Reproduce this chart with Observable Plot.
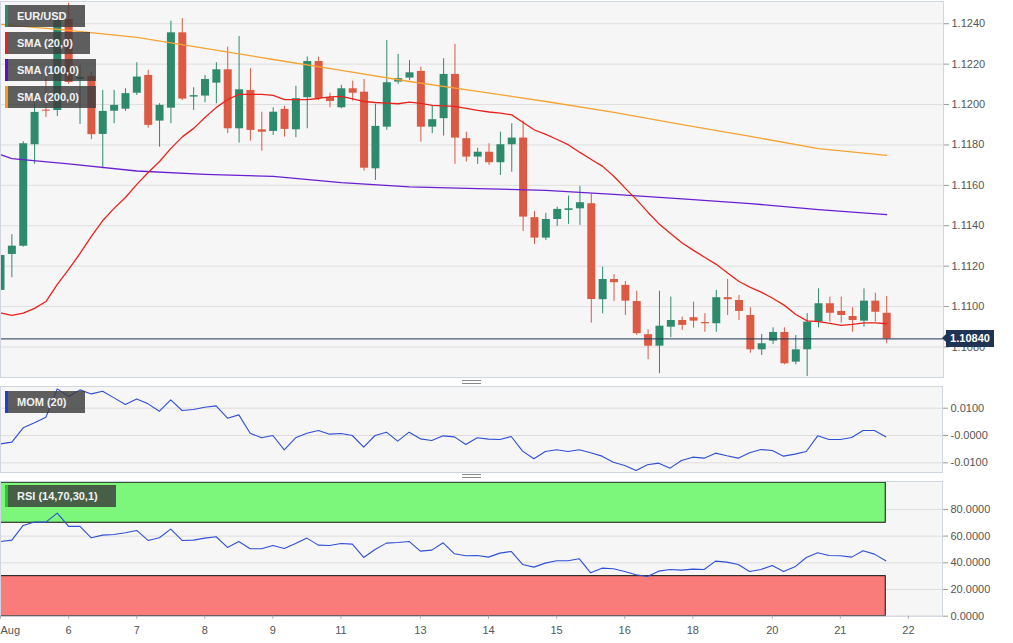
<!DOCTYPE html>
<html><head><meta charset="utf-8">
<script src="https://cdn.jsdelivr.net/npm/d3@7"></script>
<script src="https://cdn.jsdelivr.net/npm/@observablehq/plot@0.6"></script>
<style>
body{margin:0;background:#fff;font-family:"Liberation Sans",Arial,sans-serif;}
#wrap{position:relative;width:1013px;height:643px;overflow:hidden;background:#fff;}
.panel{position:absolute;left:0;}
.tag{position:absolute;left:5px;height:22px;line-height:22px;background:rgba(60,60,60,0.82);color:#f2f2f2;font-weight:bold;font-size:11px;padding-left:9px;box-sizing:border-box;border-left:3px solid;white-space:nowrap;}
.handle{position:absolute;left:462px;width:19px;height:2px;border-top:1px solid #8a8a8a;border-bottom:1px solid #8a8a8a;}
.price{position:absolute;left:946px;width:48px;height:17px;line-height:17px;background:#1f3454;color:#fff;font-weight:bold;font-size:11px;text-align:center;}
.price:before{content:"";position:absolute;left:-4px;top:4px;border-top:4.5px solid transparent;border-bottom:4.5px solid transparent;border-right:4px solid #1f3454;}
</style>
</head><body>
<div id="wrap"></div>
<script>
// ---- data (EUR/USD 4h candles) ----
const opens  = [1.11080,1.11258,1.11299,1.11801,1.11972,1.11971,1.12421,1.12124,1.12139,1.11852,
1.11967,1.11977,1.12056,1.12144,1.11918,1.11982,1.12355,1.12037,1.12042,1.12106,
1.12172,1.11880,1.12070,1.11875,1.11867,1.11976,1.11875,1.12034,1.12213,1.12034,
1.11984,1.12078,1.12061,1.11682,1.11888,1.12111,1.12131,1.12164,1.11888,1.11930,
1.12149,1.11831,1.11740,1.11764,1.11712,1.11801,1.11834,1.11440,1.11339,1.11431,
1.11476,1.11484,1.11509,1.11034,1.11134,1.11105,1.11025,1.10861,1.10804,1.10898,
1.10931,1.10945,1.10921,1.10915,1.11044,1.11030,1.10956,1.10786,1.10829,1.10872,
1.10725,1.10786,1.10923,1.11014,1.10976,1.10951,1.10928,1.11027,1.10967];
const highs  = [1.11278,1.11356,1.11816,1.12004,1.12129,1.12431,1.12502,1.12194,1.12160,1.12070,
1.12070,1.12078,1.12207,1.12169,1.12004,1.12413,1.12425,1.12083,1.12144,1.12207,
1.12284,1.12337,1.12177,1.11962,1.11984,1.11991,1.12090,1.12235,1.12235,1.12056,
1.12095,1.12116,1.12124,1.12001,1.12317,1.12248,1.12218,1.12185,1.11996,1.12227,
1.12298,1.11863,1.11784,1.11806,1.11863,1.11905,1.11918,1.11471,1.11462,1.11492,
1.11547,1.11595,1.11555,1.11195,1.11158,1.11124,1.11076,1.10885,1.11076,1.11047,
1.10948,1.11022,1.10965,1.11080,1.11134,1.11055,1.10994,1.10862,1.10895,1.10895,
1.10857,1.10965,1.11088,1.11047,1.11047,1.10994,1.11088,1.11066,1.11050];
const lows   = [1.11065,1.11143,1.11294,1.11704,1.11936,1.11941,1.12100,1.11902,1.11826,1.11682,
1.11905,1.11966,1.12045,1.11883,1.11789,1.11905,1.12020,1.11971,1.12009,1.12004,
1.11856,1.11809,1.11819,1.11769,1.11847,1.11839,1.11836,1.11880,1.12020,1.11984,
1.11979,1.12017,1.11670,1.11624,1.11872,1.12100,1.12119,1.11814,1.11856,1.11844,
1.11704,1.11715,1.11704,1.11699,1.11649,1.11665,1.11372,1.11308,1.11327,1.11397,
1.11407,1.11402,1.10918,1.10964,1.11025,1.10956,1.10857,1.10737,1.10668,1.10846,
1.10882,1.10893,1.10873,1.10873,1.10956,1.10931,1.10769,1.10758,1.10812,1.10712,
1.10712,1.10654,1.10895,1.10923,1.10918,1.10873,1.10898,1.10923,1.10816];
const closes = [1.11253,1.11299,1.11806,1.11961,1.11967,1.12416,1.12109,1.12134,1.11851,1.11966,
1.11996,1.12054,1.12136,1.11897,1.11996,1.12355,1.12027,1.12044,1.12124,1.12172,
1.11880,1.12073,1.11872,1.11863,1.11962,1.11877,1.12029,1.12213,1.12029,1.12015,
1.12078,1.12056,1.11685,1.11892,1.12108,1.12128,1.12157,1.11888,1.11925,1.12149,
1.11834,1.11740,1.11764,1.11712,1.11801,1.11834,1.11443,1.11339,1.11431,1.11481,
1.11484,1.11514,1.11035,1.11134,1.11118,1.11027,1.10866,1.10804,1.10903,1.10931,
1.10907,1.10928,1.10915,1.11044,1.11034,1.10976,1.10786,1.10816,1.10872,1.10717,
1.10786,1.10923,1.11014,1.10967,1.10956,1.10931,1.11027,1.10972,1.10840];

const sma20 = [1.10969,1.10956,1.10968,1.10991,1.11025,1.11110,1.11184,1.11263,1.11347,1.11426,
1.11486,1.11540,1.11605,1.11664,1.11718,1.11783,1.11840,1.11882,1.11936,1.11986,
1.12025,1.12050,1.12050,1.12050,1.12045,1.12024,1.12024,1.12024,1.12030,1.12038,
1.12040,1.12028,1.12015,1.12010,1.12007,1.12004,1.12012,1.12006,1.11996,1.11993,
1.11991,1.11981,1.11971,1.11963,1.11958,1.11949,1.11911,1.11874,1.11852,1.11827,
1.11800,1.11763,1.11728,1.11694,1.11644,1.11585,1.11528,1.11466,1.11407,1.11361,
1.11315,1.11278,1.11243,1.11209,1.11166,1.11124,1.11095,1.11070,1.11040,1.11006,
1.10961,1.10929,1.10926,1.10917,1.10907,1.10912,1.10919,1.10919,1.10915];
const sma100Idx = [0,1,6,12,18,24,30,36,42,48,54,60,66,72,78];
const sma100 = [1.11752,1.11732,1.11706,1.11671,1.11654,1.11644,1.11614,1.11592,1.11584,1.11575,1.11555,1.11533,1.11510,1.11480,1.11455];
const sma200Idx = [0,6,12,18,24,30,36,42,48,54,60,66,72,78];
const sma200 = [1.12397,1.12367,1.12332,1.12278,1.12223,1.12169,1.12114,1.12065,1.12015,1.11961,1.11901,1.11842,1.11782,1.11748];

const mom20 = [-0.00305,-0.00244,0.00280,0.00463,0.00671,0.01707,0.01427,0.01671,0.01524,0.01622,
0.01378,0.01134,0.01341,0.01159,0.00890,0.01305,0.00915,0.00951,0.01037,0.01085,
0.00634,0.00756,0.00085,-0.00085,0,-0.00524,-0.00085,0.00085,0.00183,0.00049,
0.00073,0,-0.00427,0,0.00122,-0.00207,0.00122,-0.00122,-0.00183,-0.00012,
-0.00049,-0.00329,-0.00085,-0.00134,-0.00146,-0.00037,-0.00573,-0.00854,-0.00585,-0.00524,
-0.00585,-0.00524,-0.00634,-0.00756,-0.00976,-0.01098,-0.01280,-0.01073,-0.01012,-0.01195,
-0.00915,-0.00793,-0.00829,-0.00646,-0.00744,-0.00829,-0.00634,-0.00512,-0.00549,-0.00756,
-0.00683,-0.00585,-0.00012,-0.00146,-0.00146,-0.00073,0.00183,0.00183,-0.00049];
const rsi14 = [56,57,68,70.5,70.5,77.25,67.25,67.25,58.75,60.75,
61.25,62.5,64.25,56.75,58.75,65.25,56.75,57,58.5,59.5,
51.5,56,50.5,50.5,53,50.75,54.5,58.5,53.25,53,
54.5,54,44,50,54.75,55.25,56,48.75,49.5,55,
46.75,45.25,45.5,44.25,47.25,48.5,38.75,36.75,39.75,41.5,
41.5,43,32.5,36,35.5,33.5,31,29.75,33.75,35,
34.5,35.25,35,41.25,40.5,38.75,33.5,35,38,33.5,
37,44,47.5,45.5,45.25,44.25,49,46.5,41.5];

const dayIndex  = [0,6,12,18,24,30,37,43,49,55,61,68,74,80];
const dayLabels = ["Aug","6","7","8","9","11","13","14","15","16","18","20","21","22"];
const priceTicks = [1.124,1.122,1.120,1.118,1.116,1.114,1.112,1.110,1.108];
const momTicks = [0.01,0,-0.01];
const momTickLabels = ["0.0100","-0.0000","-0.0100"];
const rsiTicks = [80,60,40,20,0];
const rsiMax = 100, rsiUpper = 70, rsiLower = 30, rsiMin = 0;
const xDomain = [0, 83];
const priceDomain = [1.10649, 1.12510];
const momDomain = [-0.01355, 0.01795];
const rsiDomain = [0, 100.9];

// ---- styles ----
const UP = "#2e8a6c", DOWN = "#dc5943";
const panelFill = "#f6f6f6", panelStroke = "#cfd5e1", gridColor = "#dedede";
const style = {background:"transparent", color:"#555", fontFamily:"'Liberation Sans', Arial, sans-serif", fontSize:"11px", overflow:"visible"};

const candles = opens.map((o,i)=>({i, open:o, high:highs[i], low:lows[i], close:closes[i], col: closes[i] >= o ? UP : DOWN}));
const last = candles[candles.length-1];
const s20 = sma20.map((v,i)=>({i, v}));
const s100 = sma100.map((v,k)=>({i:sma100Idx[k], v}));
const s200 = sma200.map((v,k)=>({i:sma200Idx[k], v}));
const mom = mom20.map((v,i)=>({i, v}));
const rsi = rsi14.map((v,i)=>({i, v}));
const days = dayIndex.map((d,k)=>({i:d, label:dayLabels[k]}));

const wrap = document.getElementById("wrap");
function place(el, top){ el.classList.add("panel"); el.style.top = top+"px"; wrap.appendChild(el); return el; }

// ---- main price panel ----
const main = Plot.plot({
  width:1013, height:378, marginLeft:0, marginRight:70, marginTop:1, marginBottom:1,
  style,
  x:{domain:xDomain, axis:null},
  y:{domain:priceDomain, axis:null},
  color:{type:"identity"},
  marks:[
    Plot.frame({fill:panelFill, stroke:"none"}),
    Plot.gridY(priceTicks,{stroke:gridColor, strokeOpacity:1}),
    Plot.ruleX(candles,{x:"i", y1:"low", y2:"high", stroke:"col", strokeWidth:1, clip:true}),
    Plot.ruleX(candles,{x:"i", y1:"open", y2:"close", stroke:"col", strokeWidth:8, clip:true}),
    Plot.line(s200,{x:"i", y:"v", stroke:"#f5a332", strokeWidth:1.3}),
    Plot.line(s100,{x:"i", y:"v", stroke:"#6a1fd0", strokeWidth:1.3}),
    Plot.line(s20,{x:"i", y:"v", stroke:"#e8231d", strokeWidth:1.3}),
    Plot.ruleY([last.close],{stroke:"#1f3454", strokeWidth:1}),
    Plot.axisY({anchor:"right", ticks:priceTicks, tickFormat:d=>d.toFixed(4), tickSize:5, tickPadding:3, stroke:"#999", label:null}),
    Plot.frame({stroke:panelStroke})
  ]
});
place(main, 0);

// ---- MOM panel ----
const momPlot = Plot.plot({
  width:1013, height:88, marginLeft:0, marginRight:71, marginTop:1, marginBottom:1,
  style,
  x:{domain:xDomain, axis:null},
  y:{domain:momDomain, axis:null},
  marks:[
    Plot.frame({fill:panelFill, stroke:"none"}),
    Plot.gridY(momTicks,{stroke:gridColor, strokeOpacity:1}),
    Plot.line(mom,{x:"i", y:"v", stroke:"#2f4fd6", strokeWidth:1.1}),
    Plot.axisY({anchor:"right", ticks:momTicks, tickFormat:d=>momTickLabels[momTicks.indexOf(d)], tickSize:5, tickPadding:3, stroke:"#999", label:null}),
    Plot.frame({stroke:panelStroke})
  ]
});
place(momPlot, 385);

// ---- RSI panel ----
const bands = [
  {lo:rsiUpper, hi:rsiMax, fill:"#7cf77b"},
  {lo:rsiMin, hi:rsiLower, fill:"#f97b7a"}
];
const firstI = candles[0].i, lastI = last.i;
const rsiPlot = Plot.plot({
  width:1013, height:163, marginLeft:0, marginRight:71, marginTop:1, marginBottom:27.3,
  style,
  x:{domain:xDomain, axis:null},
  y:{domain:rsiDomain, axis:null},
  color:{type:"identity"},
  marks:[
    Plot.frame({fill:panelFill, stroke:"none"}),
    Plot.gridY(rsiTicks,{stroke:gridColor, strokeOpacity:1}),
    Plot.rect(bands,{x1:()=>firstI, x2:()=>lastI, y1:"lo", y2:"hi", fill:"fill", stroke:"#111", strokeWidth:1}),
    Plot.line(rsi,{x:"i", y:"v", stroke:"#2f4fd6", strokeWidth:1.1}),
    Plot.axisY({anchor:"right", ticks:rsiTicks, tickFormat:d=>d.toFixed(4), tickSize:5, tickPadding:3, stroke:"#999", label:null}),
    Plot.frame({stroke:panelStroke}),
    Plot.axisX({ticks:dayIndex, tickSize:3, tickFormat:()=>"", stroke:"#aaa", label:null}),
    Plot.text(days.slice(0,1),{x:"i", text:"label", frameAnchor:"bottom", dy:18, textAnchor:"start", fill:"#555", fontSize:11}),
    Plot.text(days.slice(1),{x:"i", text:"label", frameAnchor:"bottom", dy:18, fill:"#555", fontSize:11})
  ]
});
place(rsiPlot, 480);

// ---- legends / overlays ----
function tag(text, color, top, width){
  const d = document.createElement("div");
  d.className = "tag"; d.textContent = text;
  d.style.borderLeftColor = color; d.style.top = top+"px"; d.style.width = width+"px";
  wrap.appendChild(d);
}
tag("EUR/USD", UP, 5, 80);
tag("SMA (20,0)", "#e8231d", 32, 85);
tag("SMA (100,0)", "#5a10c8", 59, 91);
tag("SMA (200,0)", "#f39a1e", 86, 91);
tag("MOM (20)", "#1d3fe0", 391, 80);
tag("RSI (14,70,30,1)", "#22cc22", 485, 111);

const h1 = document.createElement("div"); h1.className="handle"; h1.style.top="380px"; wrap.appendChild(h1);
const h2 = document.createElement("div"); h2.className="handle"; h2.style.top="474px"; wrap.appendChild(h2);

const py = main.scale("y").apply(last.close);
const pl = document.createElement("div");
pl.className = "price"; pl.textContent = last.close.toFixed(5);
pl.style.top = (py - 8.5) + "px";
wrap.appendChild(pl);
</script>
</body></html>
